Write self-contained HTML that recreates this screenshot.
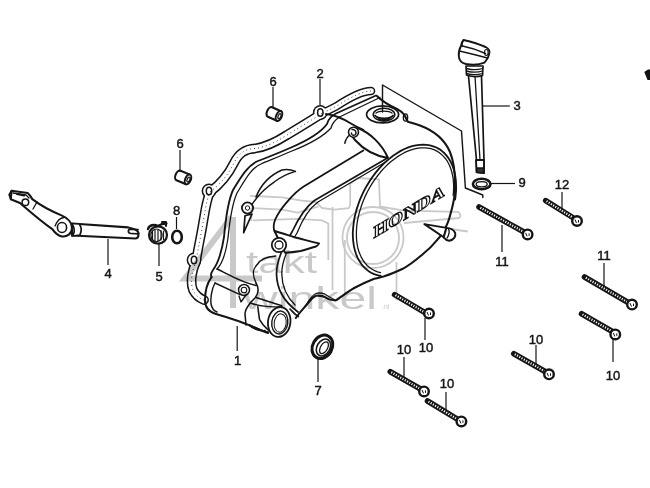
<!DOCTYPE html>
<html><head><meta charset="utf-8"><style>
html,body{margin:0;padding:0;background:#fff;}
body{width:650px;height:488px;overflow:hidden;}
svg{display:block;}
</style></head><body>
<svg width="650" height="488" viewBox="0 0 650 488">
<path d="M 371 91 C 364 91, 352 96, 336 106.5 L 322 113.5" fill="none" stroke="#151515" stroke-width="8.6" stroke-linecap="round" stroke-linejoin="round"/>
<path d="M 322 113.5 C 310 121, 297 129, 287 135 C 276 142, 266 147, 255 148.5 C 245 149, 239 153, 234 163 C 229 173, 222 183, 210 192 C 206 202, 205 212, 203 223 C 201 236, 198 248, 196 262 C 192 270, 190 282, 193 290 C 196 296, 199 298, 204 300" fill="none" stroke="#151515" stroke-width="9.8" stroke-linecap="round" stroke-linejoin="round"/>
<circle cx="320.3" cy="112.5" r="7.4" fill="#151515"/>
<circle cx="209" cy="191" r="7.4" fill="#151515"/>
<circle cx="194" cy="260" r="7.4" fill="#151515"/>
<path d="M 371 91 C 364 91, 352 96, 336 106.5 L 322 113.5" fill="none" stroke="#fff" stroke-width="5.6" stroke-linecap="round" stroke-linejoin="round"/>
<path d="M 322 113.5 C 310 121, 297 129, 287 135 C 276 142, 266 147, 255 148.5 C 245 149, 239 153, 234 163 C 229 173, 222 183, 210 192 C 206 202, 205 212, 203 223 C 201 236, 198 248, 196 262 C 192 270, 190 282, 193 290 C 196 296, 199 298, 204 300" fill="none" stroke="#fff" stroke-width="6.8" stroke-linecap="round" stroke-linejoin="round"/>
<circle cx="320.3" cy="112.5" r="5.9" fill="#fff"/>
<circle cx="209" cy="191" r="5.9" fill="#fff"/>
<circle cx="194" cy="260" r="5.9" fill="#fff"/>
<path d="M 371 91 C 364 91, 352 96, 336 106.5 L 322 113.5 " fill="none" stroke="#444" stroke-width="1" stroke-dasharray="1 3"/>
<path d="M 322 113.5 C 310 121, 297 129, 287 135 C 276 142, 266 147, 255 148.5 C 245 149, 239 153, 234 163 C 229 173, 222 183, 210 192 C 206 202, 205 212, 203 223 C 201 236, 198 248, 196 262 C 192 270, 190 282, 193 290 C 196 296, 199 298, 204 300" fill="none" stroke="#444" stroke-width="1" stroke-dasharray="1 3"/>
<ellipse cx="320.3" cy="112.5" rx="2.7" ry="3.8" fill="none" stroke="#151515" stroke-width="1.5"/>
<ellipse cx="209" cy="191" rx="2.7" ry="3.8" fill="none" stroke="#151515" stroke-width="1.5"/>
<ellipse cx="194" cy="260" rx="2.7" ry="3.8" fill="none" stroke="#151515" stroke-width="1.5"/>
<path d="M 376 95.5 L 336 113.5 C 331 116, 328 120, 327 124 C 320 134, 304 142, 290 148 C 276 154, 266 158, 258 161 C 248 165, 241 177, 233 190 C 228 201, 226 215, 224 237 C 222 250, 219 262, 213 270 C 211 273, 210 275, 211.6 277" fill="none" stroke="#151515" stroke-width="1.82" stroke-linejoin="round" stroke-linecap="round" />
<path d="M 380 97.5 L 339.5 117 C 335 120, 332 124, 331 128 C 323 137, 307 145, 292 151 C 278 157, 268 161, 261 164 C 251 168, 245 180, 237 193 C 232 204, 230 218, 228 238 C 226 252, 223 263, 217 269" fill="none" stroke="#151515" stroke-width="1.30" stroke-linejoin="round" stroke-linecap="round" />
<path d="M 211.6 277 C 208 282, 205 290, 205 300 C 205 308, 209 312, 216 314 C 230 318, 245 323, 258 329 C 262 331, 266 332, 268 333" fill="none" stroke="#151515" stroke-width="2.08" stroke-linejoin="round" stroke-linecap="round" />
<path d="M 215 283 C 211 290, 210.5 300, 211 304 C 212 309, 214 311, 217 312" fill="none" stroke="#151515" stroke-width="1.43" stroke-linejoin="round" stroke-linecap="round" />
<path d="M 217 269 C 228 274, 240 282, 256 285.5" fill="none" stroke="#151515" stroke-width="1.56" stroke-linejoin="round" stroke-linecap="round" />
<path d="M 215 283 L 240 294.7" fill="none" stroke="#151515" stroke-width="1.43" stroke-linejoin="round" stroke-linecap="round" />
<path d="M 256 283 C 259 288, 259 293, 255 298 C 252 301, 250 303, 250.4 303" fill="none" stroke="#151515" stroke-width="1.56" stroke-linejoin="round" stroke-linecap="round" />
<path d="M 250.4 303 C 258 306, 270 307, 282 307" fill="none" stroke="#151515" stroke-width="1.56" stroke-linejoin="round" stroke-linecap="round" />
<path d="M 250.4 303 C 247 307, 245 311, 245 314 L 246 325" fill="none" stroke="#151515" stroke-width="1.56" stroke-linejoin="round" stroke-linecap="round" />
<path d="M 250 325 C 256 328, 262 331, 268 332" fill="none" stroke="#151515" stroke-width="1.30" stroke-linejoin="round" stroke-linecap="round" />
<circle cx="244" cy="290" r="5.5" fill="#fff" stroke="#151515" stroke-width="1.5"/>
<circle cx="244" cy="290" r="2.8" fill="none" stroke="#151515" stroke-width="1.1"/>
<path d="M 239 296 L 241 302 L 246 295" fill="none" stroke="#151515" stroke-width="1.30" stroke-linejoin="round" stroke-linecap="round" />
<path d="M 256 297.5 L 281.8 305.8" fill="none" stroke="#151515" stroke-width="1.56" stroke-linejoin="round" stroke-linecap="round" />
<path d="M 257.8 306.7 C 258.5 312, 259 317, 259.6 319.6 C 262 324, 265 327, 267 328.8 L 272.5 334.4" fill="none" stroke="#151515" stroke-width="1.56" stroke-linejoin="round" stroke-linecap="round" />
<path d="M 290 309 C 293 312, 295 315, 298.4 316.5" fill="none" stroke="#151515" stroke-width="1.69" stroke-linejoin="round" stroke-linecap="round" />
<ellipse cx="279.2" cy="322" rx="11.2" ry="15" transform="rotate(8 279.2 322)" fill="#fff" stroke="#151515" stroke-width="1.8"/>
<ellipse cx="279.8" cy="322.5" rx="8" ry="11.5" transform="rotate(8 279.8 322.5)" fill="none" stroke="#151515" stroke-width="1.4"/>
<ellipse cx="280.2" cy="323" rx="6" ry="9.2" transform="rotate(8 280.2 323)" fill="none" stroke="#151515" stroke-width="1.0"/>
<path d="M 249 325 C 253 329, 258 331, 265 330.7" fill="none" stroke="#151515" stroke-width="1.69" stroke-linejoin="round" stroke-linecap="round" />
<path d="M 377 96 C 381 100, 386 104, 397 108.9 C 401 111, 403 113, 404.5 115 C 406 118, 407 120.5, 408 121.8 C 412 123, 416 124, 420 125.5 C 432 130, 444 138, 450 152 C 454 162, 455.5 175, 455 190 C 454.5 200, 452.5 207, 450.6 213.5 C 449 220, 447 225, 445.1 228.2 C 442 234, 440 237, 437.7 239.3 C 433 245, 428 250, 423 254 C 417 259, 410 265, 402.7 268.8 C 396 272, 390 274.5, 384.2 276.2 C 381 277, 378 278, 374.2 278.8 C 366 282, 360 285, 354.2 288 C 347 292, 340 298, 335.8 300.4 C 331 300, 328 299, 326.5 298 C 324 296.5, 322 295, 315.8 295.8 C 311 298, 309 302, 306.5 305 C 303 309, 300 312, 295.8 318" fill="none" stroke="#151515" stroke-width="2.08" stroke-linejoin="round" stroke-linecap="round" />
<path d="M 380.6 276.0 L 377.3 275.2 L 374.1 274.1 L 371.1 272.7 L 368.3 270.9 L 365.7 268.8 L 363.2 266.4 L 361.1 263.7 L 359.1 260.6 L 357.4 257.3 L 356.0 253.8 L 354.8 250.0 L 353.9 246.0 L 353.3 241.8 L 352.9 237.5 L 352.8 233.0 L 353.1 228.3 L 353.6 223.6 L 354.3 218.8 L 355.4 213.9 L 356.7 209.1 L 358.3 204.2 L 360.1 199.4 L 362.2 194.6 L 364.5 189.9 L 367.0 185.4 L 369.7 181.0 L 372.6 176.7 L 375.7 172.6 L 379.0 168.7 L 382.3 165.1 L 385.8 161.7 L 389.5 158.6 L 393.1 155.7 L 396.9 153.2 L 400.7 150.9 L 404.5 149.0 L 408.3 147.4 L 412.1 146.2 L 415.9 145.3 L 419.5 144.8 L 423.2 144.6 L 426.7 144.8 L 430.0 145.4 L 433.3 146.3 L 436.4 147.5 L 439.3 149.1 L 442.0 151.1 L 444.5 153.3 L 446.8 155.9 L 448.9 158.8 L 450.7 161.9 L 452.3 165.3 L 453.6 169.0 L 454.7 172.9 L 455.4 177.0 L 455.9 181.2 L 456.1 185.7 L 456.1 190.3 L 455.7 194.9 L 455.1 199.7" fill="none" stroke="#151515" stroke-width="1.82" stroke-linejoin="round" stroke-linecap="round" />
<path d="M 380.5 272.6 L 377.5 271.8 L 374.7 270.7 L 372.0 269.2 L 369.5 267.5 L 367.2 265.5 L 365.1 263.1 L 363.2 260.5 L 361.5 257.7 L 360.1 254.6 L 358.8 251.2 L 357.8 247.7 L 357.1 244.0 L 356.6 240.0 L 356.4 236.0 L 356.4 231.8 L 356.6 227.5 L 357.1 223.1 L 357.9 218.6 L 358.9 214.1 L 360.2 209.6 L 361.7 205.0 L 363.4 200.6 L 365.3 196.1 L 367.4 191.7 L 369.7 187.5 L 372.2 183.3 L 374.9 179.3 L 377.8 175.5 L 380.7 171.8 L 383.8 168.4 L 387.1 165.1 L 390.4 162.1 L 393.8 159.4 L 397.2 156.9 L 400.7 154.7 L 404.2 152.7 L 407.7 151.1 L 411.2 149.8 L 414.6 148.8 L 418.1 148.1 L 421.4 147.8 L 424.7 147.8 L 427.8 148.1 L 430.9 148.7 L 433.8 149.7 L 436.5 150.9 L 439.1 152.5 L 441.5 154.4 L 443.7 156.6 L 445.8 159.0 L 447.6 161.7 L 449.2 164.7 L 450.5 167.9 L 451.6 171.3 L 452.5 175.0 L 453.2 178.8 L 453.5 182.8 L 453.7 186.9 L 453.5 191.2 L 453.2 195.5" fill="none" stroke="#151515" stroke-width="1.30" stroke-linejoin="round" stroke-linecap="round" />
<ellipse cx="382.6" cy="114.4" rx="16" ry="8.5" fill="#fff" stroke="#151515" stroke-width="1.7"/>
<ellipse cx="384" cy="114.6" rx="10.8" ry="6.3" fill="none" stroke="#151515" stroke-width="1.5"/>
<path d="M 375 115.5 C 378 119, 390 119.5, 393 115.5" fill="none" stroke="#151515" stroke-width="1.69" stroke-linejoin="round" stroke-linecap="round" />
<path d="M 377 117.5 C 380 120, 388 120.5, 391 117.5" fill="none" stroke="#151515" stroke-width="1.56" stroke-linejoin="round" stroke-linecap="round" />
<path d="M 379 119.5 C 382 121, 386 121, 389 119.5" fill="none" stroke="#151515" stroke-width="1.43" stroke-linejoin="round" stroke-linecap="round" />
<path d="M 376 113 C 379 110.5, 389 110.5, 392 113" fill="none" stroke="#151515" stroke-width="1.30" stroke-linejoin="round" stroke-linecap="round" />
<ellipse cx="405.5" cy="117.5" rx="2.2" ry="3.6" fill="none" stroke="#151515" stroke-width="1.3"/>
<path d="M 326 114 C 334 115, 342 118, 350 123 C 355 126, 359 128, 363.3 129.8" fill="none" stroke="#151515" stroke-width="1.95" stroke-linejoin="round" stroke-linecap="round" />
<path d="M 358 128 C 370 133, 382 144, 388 158 C 376 156, 364 150, 355 140 C 351 136, 352 130, 358 128 Z" fill="#fff" stroke="#151515" stroke-width="1.95" stroke-linejoin="round" stroke-linecap="round" />
<circle cx="353.5" cy="132.2" r="5" fill="#fff" stroke="#151515" stroke-width="1.6"/>
<path d="M 352 129.5 C 355 129, 357 132, 355.5 134.5 C 354 136, 351 135, 351.5 133" fill="none" stroke="#151515" stroke-width="1.43" stroke-linejoin="round" stroke-linecap="round" />
<path d="M 349.5 135 C 347 137, 345.5 140, 344.8 143.3" fill="none" stroke="#151515" stroke-width="1.43" stroke-linejoin="round" stroke-linecap="round" />
<path d="M 363.3 150.5 L 303.7 186.5 C 295 192, 280 208, 275 220 C 273 226, 273 229, 275 232" fill="none" stroke="#151515" stroke-width="1.82" stroke-linejoin="round" stroke-linecap="round" />
<path d="M 387 158.3 L 314.4 200.5 C 307 206, 299 217, 292 232 C 282 248, 276.5 262, 276.5 274 C 277 288, 282 300, 298 312" fill="none" stroke="#151515" stroke-width="1.69" stroke-linejoin="round" stroke-linecap="round" />
<path d="M 386 161.8 L 318 202 C 311 207, 303 218, 297 233 C 287 249, 281.5 263, 281.8 274 C 282 286, 286 296, 295 305" fill="none" stroke="#151515" stroke-width="1.30" stroke-linejoin="round" stroke-linecap="round" />
<path d="M 256 197 C 260 187, 268 176, 282 170 C 287 169, 292 170, 295.4 171.4" fill="none" stroke="#151515" stroke-width="1.56" stroke-linejoin="round" stroke-linecap="round" />
<path d="M 251 206 C 256 198, 265 188, 274.5 181.8 C 282 176, 290 173, 295.4 171.4" fill="none" stroke="#151515" stroke-width="1.43" stroke-linejoin="round" stroke-linecap="round" />
<path d="M 245 215.8 L 243.7 232.7 L 252 214 Z" fill="#fff" stroke="#151515" stroke-width="1.69" stroke-linejoin="round" stroke-linecap="round" />
<circle cx="247.5" cy="208" r="5.6" fill="#fff" stroke="#151515" stroke-width="1.8"/>
<circle cx="247.5" cy="208" r="2.2" fill="none" stroke="#151515" stroke-width="1"/>
<path d="M 274.5 231 C 282 233, 290 236, 294.5 237.3 C 303 239.5, 312 241.5, 319 243.5 C 318 245, 317 246, 316 246.5 C 310 248, 305 250, 300.6 251 C 295 252, 290 252.5, 285 252.7 Z" fill="#fff" stroke="#151515" stroke-width="1.95" stroke-linejoin="round" stroke-linecap="round" />
<circle cx="279" cy="245" r="7.2" fill="#fff" stroke="#151515" stroke-width="1.8"/>
<circle cx="279" cy="245" r="4" fill="none" stroke="#151515" stroke-width="1.3"/>
<path d="M 257.4 264.3 C 260 260, 264.8 257, 275.8 256" fill="none" stroke="#151515" stroke-width="1.43" stroke-linejoin="round" stroke-linecap="round" />
<path d="M 257.4 264.3 C 254 268, 251 272, 256 283" fill="none" stroke="#151515" stroke-width="1.30" stroke-linejoin="round" stroke-linecap="round" />
<path d="M 305 306.5 C 309 300, 312 295, 315.8 293.5 C 319 292.5, 322 293, 325 294.2 C 328 296, 331 298, 334.2 299.6" fill="none" stroke="#151515" stroke-width="1.30" stroke-linejoin="round" stroke-linecap="round" />
<text x="0" y="0" transform="translate(373.5 238.5) skewY(-31)" font-family="Liberation Serif" font-weight="bold" font-size="17" fill="#fff" stroke="#151515" stroke-width="1.15" textLength="71" lengthAdjust="spacingAndGlyphs">HONDA</text>
<path d="M 424.4 224.1 L 446.4 227.9 L 443.7 237.3 Z" fill="#fff" stroke="#151515" stroke-width="1.95" stroke-linejoin="round" stroke-linecap="round" />
<path d="M 446.4 227.9 C 450 228, 453.5 229.5, 455.2 233 C 456 236.5, 454 240, 449.1 240.7 C 447 240.5, 445 239, 443.7 237.3 Z" fill="#fff" stroke="#151515" stroke-width="1.95" stroke-linejoin="round" stroke-linecap="round" />
<path d="M 448.5 228.5 C 449.5 231, 449 235, 447.1 238" fill="none" stroke="#151515" stroke-width="1.30" stroke-linejoin="round" stroke-linecap="round" />
<path d="M 468.5 76 L 476.5 160 L 484 160 L 481.5 76" fill="#fff" stroke="#151515" stroke-width="1.69" stroke-linejoin="round" stroke-linecap="round" />
<path d="M 475 76 L 480 160" fill="none" stroke="#151515" stroke-width="1.30" stroke-linejoin="round" stroke-linecap="round" />
<path d="M 476 160 L 476.5 172 L 484 173 L 484 160 Z" fill="#fff" stroke="#151515" stroke-width="1.95" stroke-linejoin="round" stroke-linecap="round" />
<path d="M 477 168 L 477 172.5 L 483.5 173 L 483.5 168 Z" fill="#333" stroke="#151515" stroke-width="1.30" stroke-linejoin="round" stroke-linecap="round" />
<path d="M 466 66 L 466.5 75 C 472 77, 478 77, 482.5 75.5 L 483 66 Z" fill="#fff" stroke="#151515" stroke-width="1.69" stroke-linejoin="round" stroke-linecap="round" />
<path d="M 466.5 68.5 C 472 70.0, 478 70.0, 482.5 68.5" fill="none" stroke="#151515" stroke-width="1.30" stroke-linejoin="round" stroke-linecap="round" />
<path d="M 466.5 71 C 472 72.5, 478 72.5, 482.5 71" fill="none" stroke="#151515" stroke-width="1.30" stroke-linejoin="round" stroke-linecap="round" />
<path d="M 466.5 73.5 C 472 75.0, 478 75.0, 482.5 73.5" fill="none" stroke="#151515" stroke-width="1.30" stroke-linejoin="round" stroke-linecap="round" />
<path d="M 463.5 40 C 470 41.5, 480 44.5, 485.6 47 C 488.5 48.5, 489.8 51, 489.3 53 C 489 56.5, 487.5 59, 484.4 62.6 C 480 64.5, 472 65, 466 64 C 461.5 63, 459 59.5, 458.8 56 C 458.6 52, 459.5 48.5, 461 46 C 461.5 43.5, 462 41.5, 463.5 40 Z" fill="#fff" stroke="#151515" stroke-width="1.95" stroke-linejoin="round" stroke-linecap="round" />
<path d="M 459.5 51 C 468 53, 480 56, 487.5 58" fill="none" stroke="#151515" stroke-width="1.56" stroke-linejoin="round" stroke-linecap="round" />
<path d="M 462.5 46 C 470 47.5, 479 50.5, 485.5 53.5" fill="none" stroke="#151515" stroke-width="1.43" stroke-linejoin="round" stroke-linecap="round" />
<path d="M 463.5 40 C 462 43, 461.5 45, 462.5 46" fill="none" stroke="#151515" stroke-width="1.30" stroke-linejoin="round" stroke-linecap="round" />
<ellipse cx="486.3" cy="52.5" rx="1.8" ry="3" fill="none" stroke="#151515" stroke-width="1.1"/>
<ellipse cx="481.7" cy="184" rx="8.8" ry="5.2" fill="#fff" stroke="#151515" stroke-width="2.6"/>
<ellipse cx="481.7" cy="184.3" rx="5.5" ry="2.6" fill="none" stroke="#151515" stroke-width="1.3"/>
<path d="M 382.5 112 L 382.5 85 L 461.5 131 L 465.4 188 L 482.8 195 L 482.8 197.5" fill="none" stroke="#151515" stroke-width="1.43" stroke-linejoin="round" stroke-linecap="round" />
<path d="M 267.9 116.8 L 276.9 120.8 L 281.1 111.2 L 272.1 107.2 A 3 5.2 24.0 0 0 267.9 116.8 Z" fill="#fff" stroke="#151515" stroke-width="2.08" stroke-linejoin="round" stroke-linecap="round" />
<ellipse cx="279" cy="116" rx="2.8" ry="5.2" transform="rotate(24.0 279 116)" fill="#fff" stroke="#151515" stroke-width="2"/>
<ellipse cx="279.5" cy="116" rx="1.3" ry="2.6" transform="rotate(24.0 279 116)" fill="none" stroke="#151515" stroke-width="1.2"/>
<path d="M 176.5 180.3 L 186.0 184.2 L 190.0 174.6 L 180.5 170.7 A 3 5.2 22.3 0 0 176.5 180.3 Z" fill="#fff" stroke="#151515" stroke-width="2.08" stroke-linejoin="round" stroke-linecap="round" />
<ellipse cx="188" cy="179.4" rx="2.8" ry="5.2" transform="rotate(22.3 188 179.4)" fill="#fff" stroke="#151515" stroke-width="2"/>
<ellipse cx="188.5" cy="179.4" rx="1.3" ry="2.6" transform="rotate(22.3 188 179.4)" fill="none" stroke="#151515" stroke-width="1.2"/>
<path d="M 72 223.5 L 128.2 227.4 C 134 228.5, 138 230, 138.5 233 C 138.7 236, 137.5 238.3, 135.6 238.5 L 72 235.5 Z" fill="#fff" stroke="#151515" stroke-width="2.08" stroke-linejoin="round" stroke-linecap="round" />
<path d="M 138 229.6 L 131 229.2 C 127.5 229.2, 127.5 233.5, 131 233.5 L 138.5 233.8" fill="none" stroke="#151515" stroke-width="1.69" stroke-linejoin="round" stroke-linecap="round" />
<path d="M 70 223.5 C 74 224, 76 232, 72 236 L 80 235 C 82 230, 81 226, 79 224 Z" fill="#fff" stroke="#151515" stroke-width="1.69" stroke-linejoin="round" stroke-linecap="round" />
<path d="M 11.5 190.8 L 27.7 193 C 30 195, 31 197, 32.3 199.2 C 40 205, 50 210.8, 61.5 215.4 C 68 218, 72 223, 72 228 C 72 234, 67 237, 62 236.5 C 58 236, 55 233, 52.3 229.2 C 45 224, 35 216, 24.6 207 L 20 203 L 10.8 199.2 Z" fill="#fff" stroke="#151515" stroke-width="2.08" stroke-linejoin="round" stroke-linecap="round" />
<path d="M 10.8 199.2 L 9.2 194.6 L 11.5 190.8" fill="none" stroke="#151515" stroke-width="1.82" stroke-linejoin="round" stroke-linecap="round" />
<path d="M 13 193 L 26 195 L 29 198" fill="none" stroke="#151515" stroke-width="1.30" stroke-linejoin="round" stroke-linecap="round" />
<path d="M 17 194 L 24 195.5" fill="none" stroke="#151515" stroke-width="2.08" stroke-linejoin="round" stroke-linecap="round" />
<circle cx="25.4" cy="202.3" r="3.3" fill="#fff" stroke="#151515" stroke-width="1.5"/>
<path d="M 33 209 L 37 202" fill="none" stroke="#151515" stroke-width="1.30" stroke-linejoin="round" stroke-linecap="round" />
<path d="M 55 226 C 57 221, 60 218, 64 217.5" fill="none" stroke="#151515" stroke-width="1.30" stroke-linejoin="round" stroke-linecap="round" />
<ellipse cx="62" cy="227.5" rx="4.6" ry="5" fill="#fff" stroke="#151515" stroke-width="1.6"/>
<ellipse cx="158" cy="235" rx="9" ry="8.6" fill="#fff" stroke="#151515" stroke-width="2.2"/>
<ellipse cx="156.5" cy="235.3" rx="5.6" ry="6.3" fill="none" stroke="#151515" stroke-width="1.2"/>
<path d="M 152.5 231 L 152.5 239.5 M 155 230 L 155 240.5 M 158 230 L 158 240.5 M 161 230.5 L 161 240 M 163.5 231 L 163.5 239.5" fill="none" stroke="#151515" stroke-width="1.17" stroke-linejoin="round" stroke-linecap="round" />
<path d="M 148 229 C 149 225, 154 224, 158 226 L 162 224 L 166.4 223.5" fill="none" stroke="#151515" stroke-width="2.34" stroke-linejoin="round" stroke-linecap="round" />
<path d="M 162 222 L 166 222 L 166 226" fill="none" stroke="#151515" stroke-width="2.08" stroke-linejoin="round" stroke-linecap="round" />
<ellipse cx="177" cy="237" rx="4.8" ry="6.3" fill="none" stroke="#151515" stroke-width="2.6"/>
<ellipse cx="322.4" cy="346.8" rx="9.8" ry="12.2" transform="rotate(30 322.4 346.8)" fill="#fff" stroke="#151515" stroke-width="3"/>
<ellipse cx="323.5" cy="347.5" rx="6.5" ry="9" transform="rotate(30 323.5 347.5)" fill="none" stroke="#151515" stroke-width="1.6"/>
<ellipse cx="324" cy="347.7" rx="3.5" ry="6.5" transform="rotate(30 324 347.7)" fill="#fff" stroke="#151515" stroke-width="1.3"/>
<g style="mix-blend-mode:multiply"><g fill="none" stroke="#c9c9c9" stroke-width="1.8" stroke-linejoin="round">
<path d="M249.8 195.8 L282 197.3 L300.6 200.4 L316 202 L322 208 L334.4 209.6 L348.8 208.2 L350.2 205 L350.2 183.7 L357.4 178 L379 179.4 L380 206.5 L404 210.6 L458 211.8 C461 214, 461 217, 459 218 L404 223"/>
<path d="M251.4 208 L282 209.6 L297.5 212.7 L318.5 206.5"/>
<path d="M253 220.4 L297.5 218.8 L322 220.4 L328.3 223.5 L328.3 260"/>
<path d="M251.4 208 L251.4 221"/>
<path d="M450.6 229 L467.8 231.5"/>
<path d="M332.5 207 L332.5 290 M344.8 240 L344.8 300 M396.5 262 L396.5 300"/>
<circle cx="373" cy="237.5" r="30.5"/>
<circle cx="373" cy="238" r="26"/>
</g>
<path d="M231.5 217 L185 278.5 L262 278.5 M233 217 L233 308" fill="none" stroke="#c9c9c9" stroke-width="6"/>
<text x="246" y="272.5" font-family="Liberation Sans" font-size="31" fill="#c9c9c9" textLength="71" lengthAdjust="spacingAndGlyphs">takt</text>
<text x="243" y="309" font-family="Liberation Sans" font-size="32" fill="#c9c9c9" textLength="134" lengthAdjust="spacingAndGlyphs">winkel</text>
<text x="382" y="309" font-family="Liberation Sans" font-size="7" fill="#c9c9c9">.nl</text></g>
<path d="M 644.3 72 L 648 69.5 L 650 69.5 L 650 80 L 647.5 80 Z" fill="#111"/>
<text x="273" y="85.5" text-anchor="middle" font-family="Liberation Sans" font-size="13" fill="#151515" stroke="#151515" stroke-width="0.45">6</text>
<text x="320" y="77.5" text-anchor="middle" font-family="Liberation Sans" font-size="13" fill="#151515" stroke="#151515" stroke-width="0.45">2</text>
<text x="517" y="110" text-anchor="middle" font-family="Liberation Sans" font-size="13" fill="#151515" stroke="#151515" stroke-width="0.45">3</text>
<text x="180" y="148" text-anchor="middle" font-family="Liberation Sans" font-size="13" fill="#151515" stroke="#151515" stroke-width="0.45">6</text>
<text x="522" y="187" text-anchor="middle" font-family="Liberation Sans" font-size="13" fill="#151515" stroke="#151515" stroke-width="0.45">9</text>
<text x="562" y="189" text-anchor="middle" font-family="Liberation Sans" font-size="13" fill="#151515" stroke="#151515" stroke-width="0.45">12</text>
<text x="176.5" y="214.5" text-anchor="middle" font-family="Liberation Sans" font-size="13" fill="#151515" stroke="#151515" stroke-width="0.45">8</text>
<text x="108" y="278" text-anchor="middle" font-family="Liberation Sans" font-size="13" fill="#151515" stroke="#151515" stroke-width="0.45">4</text>
<text x="159" y="280.5" text-anchor="middle" font-family="Liberation Sans" font-size="13" fill="#151515" stroke="#151515" stroke-width="0.45">5</text>
<text x="502" y="266" text-anchor="middle" font-family="Liberation Sans" font-size="13" fill="#151515" stroke="#151515" stroke-width="0.45">11</text>
<text x="604" y="260" text-anchor="middle" font-family="Liberation Sans" font-size="13" fill="#151515" stroke="#151515" stroke-width="0.45">11</text>
<text x="237.5" y="365" text-anchor="middle" font-family="Liberation Sans" font-size="13" fill="#151515" stroke="#151515" stroke-width="0.45">1</text>
<text x="318" y="395" text-anchor="middle" font-family="Liberation Sans" font-size="13" fill="#151515" stroke="#151515" stroke-width="0.45">7</text>
<text x="426" y="352" text-anchor="middle" font-family="Liberation Sans" font-size="13" fill="#151515" stroke="#151515" stroke-width="0.45">10</text>
<text x="404" y="354" text-anchor="middle" font-family="Liberation Sans" font-size="13" fill="#151515" stroke="#151515" stroke-width="0.45">10</text>
<text x="447" y="388" text-anchor="middle" font-family="Liberation Sans" font-size="13" fill="#151515" stroke="#151515" stroke-width="0.45">10</text>
<text x="536" y="344" text-anchor="middle" font-family="Liberation Sans" font-size="13" fill="#151515" stroke="#151515" stroke-width="0.45">10</text>
<text x="613" y="380" text-anchor="middle" font-family="Liberation Sans" font-size="13" fill="#151515" stroke="#151515" stroke-width="0.45">10</text>
<line x1="273" y1="87" x2="273" y2="107" stroke="#151515" stroke-width="1.2"/>
<line x1="320" y1="79" x2="320" y2="105" stroke="#151515" stroke-width="1.2"/>
<line x1="180" y1="150" x2="180" y2="172" stroke="#151515" stroke-width="1.2"/>
<line x1="176.5" y1="217" x2="176.5" y2="229" stroke="#151515" stroke-width="1.2"/>
<line x1="108" y1="239" x2="108" y2="265" stroke="#151515" stroke-width="1.2"/>
<line x1="159" y1="244" x2="159" y2="266" stroke="#151515" stroke-width="1.2"/>
<line x1="502" y1="225" x2="502" y2="252" stroke="#151515" stroke-width="1.2"/>
<line x1="562" y1="192" x2="562" y2="213" stroke="#151515" stroke-width="1.2"/>
<line x1="604" y1="263" x2="604" y2="286" stroke="#151515" stroke-width="1.2"/>
<line x1="613" y1="338" x2="613" y2="362" stroke="#151515" stroke-width="1.2"/>
<line x1="536" y1="345" x2="536" y2="367" stroke="#151515" stroke-width="1.2"/>
<line x1="425" y1="318" x2="425" y2="340" stroke="#151515" stroke-width="1.2"/>
<line x1="404" y1="357" x2="404" y2="377" stroke="#151515" stroke-width="1.2"/>
<line x1="446" y1="392" x2="446" y2="412" stroke="#151515" stroke-width="1.2"/>
<line x1="237.2" y1="326" x2="237.2" y2="351" stroke="#151515" stroke-width="1.2"/>
<line x1="318" y1="358" x2="318" y2="382" stroke="#151515" stroke-width="1.2"/>
<line x1="482" y1="106" x2="510" y2="106" stroke="#151515" stroke-width="1.2"/>
<line x1="491" y1="183.5" x2="515" y2="183.5" stroke="#151515" stroke-width="1.2"/>
<line x1="394.6" y1="294.6" x2="424.6" y2="312.3" stroke="#151515" stroke-width="5.6" stroke-linecap="round"/>
<line x1="395.5" y1="295.13100000000003" x2="423.70000000000005" y2="311.769" stroke="#fff" stroke-width="2.2" stroke-dasharray="1.1 1.5"/>
<circle cx="429" cy="313.5" r="4.8" fill="#fff" stroke="#151515" stroke-width="2.4"/>
<path d="M 427 312.0 L 428.5 315.5 M 430.5 312.5 L 430.5 315.0" stroke="#151515" stroke-width="1" fill="none"/>
<line x1="479" y1="207" x2="524" y2="232" stroke="#151515" stroke-width="5.6" stroke-linecap="round"/>
<line x1="480.35" y1="207.75" x2="522.65" y2="231.25" stroke="#fff" stroke-width="2.2" stroke-dasharray="1.1 1.5"/>
<circle cx="527.6" cy="234.4" r="4.8" fill="#fff" stroke="#151515" stroke-width="2.4"/>
<path d="M 525.6 232.9 L 527.1 236.4 M 529.1 233.4 L 529.1 235.9" stroke="#151515" stroke-width="1" fill="none"/>
<line x1="545.7" y1="200.6" x2="572.7" y2="217.5" stroke="#151515" stroke-width="5.6" stroke-linecap="round"/>
<line x1="546.51" y1="201.107" x2="571.8900000000001" y2="216.993" stroke="#fff" stroke-width="2.2" stroke-dasharray="1.1 1.5"/>
<circle cx="577" cy="221" r="4.8" fill="#fff" stroke="#151515" stroke-width="2.4"/>
<path d="M 575 219.5 L 576.5 223 M 578.5 220 L 578.5 222.5" stroke="#151515" stroke-width="1" fill="none"/>
<line x1="584.5" y1="277" x2="629" y2="303" stroke="#151515" stroke-width="5.6" stroke-linecap="round"/>
<line x1="585.835" y1="277.78" x2="627.665" y2="302.22" stroke="#fff" stroke-width="2.2" stroke-dasharray="1.1 1.5"/>
<circle cx="632" cy="304.6" r="4.8" fill="#fff" stroke="#151515" stroke-width="2.4"/>
<path d="M 630 303.1 L 631.5 306.6 M 633.5 303.6 L 633.5 306.1" stroke="#151515" stroke-width="1" fill="none"/>
<line x1="581.5" y1="313.8" x2="613.7" y2="332.2" stroke="#151515" stroke-width="5.6" stroke-linecap="round"/>
<line x1="582.466" y1="314.35200000000003" x2="612.734" y2="331.64799999999997" stroke="#fff" stroke-width="2.2" stroke-dasharray="1.1 1.5"/>
<circle cx="615.3" cy="334.4" r="4.8" fill="#fff" stroke="#151515" stroke-width="2.4"/>
<path d="M 613.3 332.9 L 614.8 336.4 M 616.8 333.4 L 616.8 335.9" stroke="#151515" stroke-width="1" fill="none"/>
<line x1="513.8" y1="353.7" x2="546" y2="372" stroke="#151515" stroke-width="5.6" stroke-linecap="round"/>
<line x1="514.766" y1="354.24899999999997" x2="545.034" y2="371.451" stroke="#fff" stroke-width="2.2" stroke-dasharray="1.1 1.5"/>
<circle cx="549" cy="374.3" r="4.8" fill="#fff" stroke="#151515" stroke-width="2.4"/>
<path d="M 547 372.8 L 548.5 376.3 M 550.5 373.3 L 550.5 375.8" stroke="#151515" stroke-width="1" fill="none"/>
<line x1="390.3" y1="371.7" x2="421.9" y2="389.8" stroke="#151515" stroke-width="5.6" stroke-linecap="round"/>
<line x1="391.248" y1="372.243" x2="420.952" y2="389.257" stroke="#fff" stroke-width="2.2" stroke-dasharray="1.1 1.5"/>
<circle cx="424" cy="391.4" r="4.8" fill="#fff" stroke="#151515" stroke-width="2.4"/>
<path d="M 422 389.9 L 423.5 393.4 M 425.5 390.4 L 425.5 392.9" stroke="#151515" stroke-width="1" fill="none"/>
<line x1="427.5" y1="401" x2="459" y2="420.2" stroke="#151515" stroke-width="5.6" stroke-linecap="round"/>
<line x1="428.445" y1="401.576" x2="458.055" y2="419.62399999999997" stroke="#fff" stroke-width="2.2" stroke-dasharray="1.1 1.5"/>
<circle cx="461.4" cy="421.4" r="4.8" fill="#fff" stroke="#151515" stroke-width="2.4"/>
<path d="M 459.4 419.9 L 460.9 423.4 M 462.9 420.4 L 462.9 422.9" stroke="#151515" stroke-width="1" fill="none"/>
</svg></body></html>
